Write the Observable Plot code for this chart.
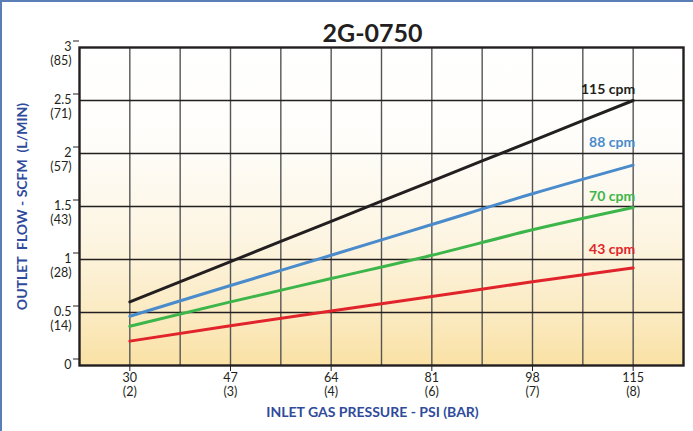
<!DOCTYPE html>
<html><head><meta charset="utf-8">
<script src="https://cdn.jsdelivr.net/npm/d3@7"></script>
<script src="https://cdn.jsdelivr.net/npm/@observablehq/plot@0.6"></script>
<style>
body{margin:0;background:#fff;}
#wrap{position:relative;width:693px;height:431px;overflow:hidden;}
#wrap::after{content:"";position:absolute;left:0;top:0;right:0;bottom:0;border-left:2px solid #5a7fb7;border-top:2px solid #5a7fb7;pointer-events:none;}
svg{display:block;}
</style></head><body><div id="wrap"></div>
<script>
// Data
const pressurePsi = [30, 47, 64, 81, 98, 115];
const pressureBar = [2, 3, 4, 6, 7, 8];
const flowTicks = [0, 0.5, 1, 1.5, 2, 2.5, 3];
const flowLpm = [null, 14, 28, 43, 57, 71, 85];
const gridPsi = [30, 38.5, 47, 55.5, 64, 72.5, 81, 89.5, 98, 106.5, 115];
const gridFlow = [0.5, 1, 1.5, 2, 2.5];
const series = ["115 cpm", "88 cpm", "70 cpm", "43 cpm"];
const flow115 = [0.60, 0.98, 1.36, 1.74, 2.12, 2.50];
const flow88 = [0.465, 0.755, 1.04, 1.33, 1.62, 1.89];
const flow70 = [0.37, 0.60, 0.82, 1.04, 1.28, 1.49];
const flow43 = [0.23, 0.375, 0.515, 0.65, 0.79, 0.92];
const seriesColors = ["#231f20", "#4a8bcb", "#3cb54a", "#e1242b"];

const flows = [flow115, flow88, flow70, flow43];
const rows = [];
series.forEach((s, si) => pressurePsi.forEach((p, i) => rows.push({series: s, psi: p, flow: flows[si][i]})));
const lastPts = series.map((s, si) => ({series: s, psi: pressurePsi[pressurePsi.length - 1], flow: flows[si][flows[si].length - 1]}));
const labelDy = [-7, -18, -7, -14];

const font = "Lato, 'Open Sans', sans-serif";
const chart = Plot.plot({
  width: 693, height: 431,
  marginLeft: 79, marginRight: 10, marginTop: 47, marginBottom: 66,
  style: {fontFamily: font, background: "transparent", color: "#231f20"},
  x: {domain: [21.5, 123.5]},
  y: {domain: [0, 3]},
  color: {domain: series, range: seriesColors},
  marks: [
    Plot.frame({fill: "url(#bg)", stroke: "none"}),
    Plot.ruleX(gridPsi, {stroke: "#555", strokeWidth: 1.4}),
    Plot.ruleY(gridFlow, {stroke: "#231f20", strokeWidth: 1.3}),
    Plot.line(rows, {x: "psi", y: "flow", z: "series", stroke: "series", strokeWidth: 3, curve: "monotone-x"}),
    ...lastPts.map((d, i) => Plot.text([d], {x: "psi", y: "flow", text: "series", fill: seriesColors[i], textAnchor: "end", lineAnchor: "bottom", dx: 2, dy: labelDy[i], fontSize: 14, fontWeight: "bold"})),
    Plot.axisX({ticks: pressurePsi, tickSize: 6, tickPadding: 1, fontSize: 12.5, lineHeight: 1.1,
      tickFormat: d => `${d}\n(${pressureBar[pressurePsi.indexOf(d)]})`, label: null}),
    Plot.axisY({ticks: flowTicks, tickSize: 6, tickPadding: 2, fontSize: 12.5, lineHeight: 1.1, lineAnchor: "top", dy: -6.5,
      tickFormat: d => { const l = flowLpm[flowTicks.indexOf(d)]; return l == null ? `${d}` : `${d}\n(${l})`; }, label: null}),
    Plot.frame({stroke: "#231f20", strokeWidth: 2.4}),
    Plot.text(["2G-0750"], {frameAnchor: "top", dy: -23, dx: -9, fontSize: 25, fontWeight: "bold", fill: "#231f20"}),
    Plot.text(["INLET GAS PRESSURE - PSI (BAR)"], {frameAnchor: "bottom", dy: 51, dx: -9, fontSize: 14, fontWeight: "bold", fill: "#2f4b9b"}),
    Plot.text(["OUTLET  FLOW - SCFM  (L/MIN)"], {frameAnchor: "left", textAnchor: "middle", dx: -57, rotate: -90, fontSize: 14, fontWeight: "bold", fill: "#2f4b9b"})
  ]
});
const svg = d3.select(chart);
const grad = svg.insert("defs", ":first-child").append("linearGradient")
  .attr("id", "bg").attr("x1", 0).attr("y1", 0).attr("x2", 0).attr("y2", 1);
[[0, "#ffffff"], [0.3, "#fefdfa"], [0.6, "#fdf5e2"], [0.85, "#fbeac0"], [1, "#fae1a4"]]
  .forEach(([o, c]) => grad.append("stop").attr("offset", o).attr("stop-color", c));
document.getElementById("wrap").appendChild(chart);
</script></body></html>
